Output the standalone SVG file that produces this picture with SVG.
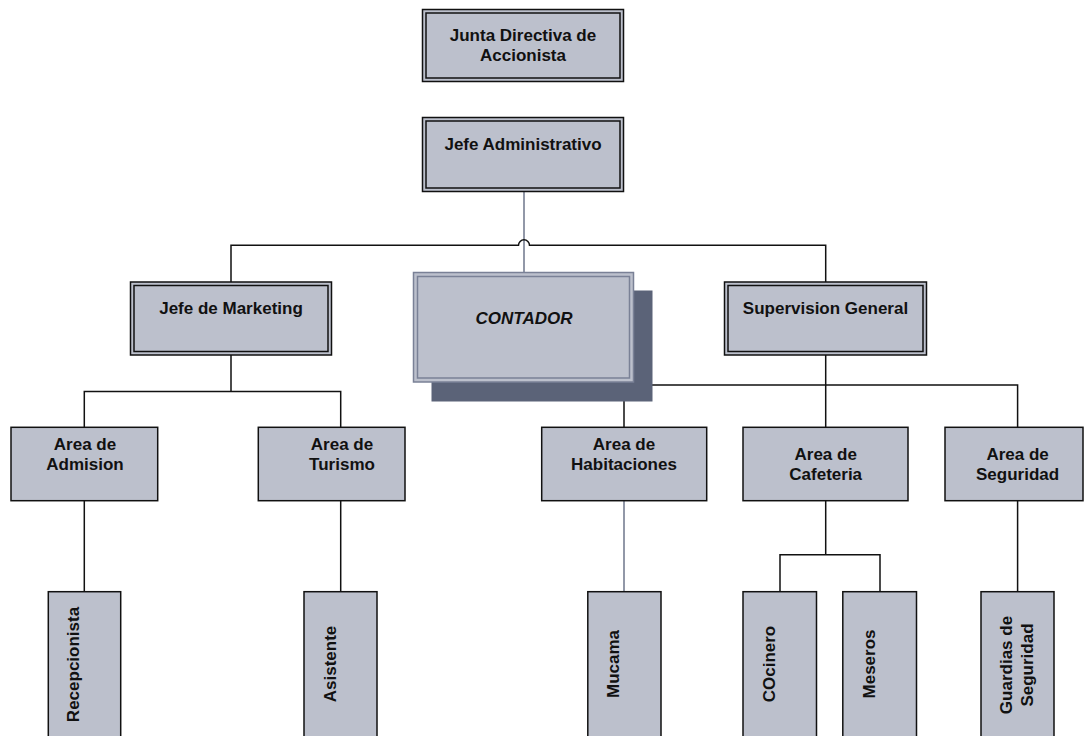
<svg xmlns="http://www.w3.org/2000/svg" width="1086" height="736" viewBox="0 0 1086 736">
<style>
.box{fill:#BCC0CC;stroke:#111;stroke-width:1.5}
.inner{fill:none;stroke:#111;stroke-width:1.5}
.cbox{fill:#BCC0CC;stroke:#7A8196;stroke-width:1.5}
.cinner{fill:none;stroke:#7A8196;stroke-width:1.5}
.shadow{fill:#5B6378}
.t{font-family:"Liberation Sans",Arial,sans-serif;font-size:17px;font-weight:bold;fill:#111;text-anchor:middle}
.it{font-style:italic}
.ln{fill:none;stroke:#111;stroke-width:1.5}
.gln{fill:none;stroke:#6E768B;stroke-width:1.5}
</style>
<g id="connectors">
<path class="gln" d="M524 192 V272"/>
<path class="ln" d="M231 282 V245.3 H518.5 A5.5 5.5 0 0 1 529.5 245.3 H825.7 V282"/>
<path class="ln" d="M231 355 V391.5 M84.3 427.3 V391.5 H340.7 V427.3"/>
<path class="ln" d="M825.7 355 V427.3 M624 427.3 V385 H1017.6 V427.3"/>
<path class="ln" d="M84.3 500.7 V591.7 M340.7 500.7 V591.7"/>
<path class="gln" d="M624 500.7 V591.7"/>
<path class="ln" d="M825.7 500.7 V554.7 M780 591.7 V554.7 H880 V591.7"/>
<path class="ln" d="M1017.6 500.7 V591.7"/>
</g>
<g id="junta">
<rect class="box" x="422.5" y="9.5" width="201" height="72"/>
<rect class="inner" x="426" y="13" width="194" height="65"/>
<text class="t" x="523" y="41">Junta Directiva de</text>
<text class="t" x="523" y="61">Accionista</text>
</g>
<g id="jefe-administrativo">
<rect class="box" x="422.5" y="117.5" width="201" height="74"/>
<rect class="inner" x="426" y="121" width="194" height="67"/>
<text class="t" x="523" y="150">Jefe Administrativo</text>
</g>
<g id="jefe-marketing">
<rect class="box" x="130.5" y="282" width="201" height="73"/>
<rect class="inner" x="134" y="285.5" width="194" height="66"/>
<text class="t" x="231" y="314">Jefe de Marketing</text>
</g>
<g id="contador">
<rect class="shadow" x="431.5" y="290.5" width="221" height="111"/>
<rect class="cbox" x="413.5" y="272.5" width="220" height="109.5"/>
<rect class="cinner" x="417.5" y="276.5" width="212" height="101.5"/>
<text class="t it" x="524" y="323.5">CONTADOR</text>
</g>
<g id="supervision-general">
<rect class="box" x="724.5" y="282" width="202" height="73"/>
<rect class="inner" x="728" y="285.5" width="195" height="66"/>
<text class="t" x="825.5" y="313.5">Supervision General</text>
</g>
<g id="area-admision">
<rect class="box" x="11" y="427.3" width="146.7" height="73.4"/>
<text class="t" x="85" y="450">Area de</text>
<text class="t" x="85" y="470">Admision</text>
</g>
<g id="area-turismo">
<rect class="box" x="258.3" y="427.3" width="146.7" height="73.4"/>
<text class="t" x="342" y="450">Area de</text>
<text class="t" x="342" y="470">Turismo</text>
</g>
<g id="area-habitaciones">
<rect class="box" x="541.7" y="427.3" width="165" height="73.4"/>
<text class="t" x="624" y="450">Area de</text>
<text class="t" x="624" y="470">Habitaciones</text>
</g>
<g id="area-cafeteria">
<rect class="box" x="743" y="427.3" width="165" height="73.4"/>
<text class="t" x="825.7" y="459.5">Area de</text>
<text class="t" x="825.7" y="480">Cafeteria</text>
</g>
<g id="area-seguridad">
<rect class="box" x="945" y="427.3" width="138" height="73.4"/>
<text class="t" x="1017.6" y="459.5">Area de</text>
<text class="t" x="1017.6" y="480">Seguridad</text>
</g>
<g id="recepcionista">
<rect class="box" x="48.3" y="591.7" width="72.4" height="160"/>
<text class="t" transform="translate(79 664.5) rotate(-90)">Recepcionista</text>
</g>
<g id="asistente">
<rect class="box" x="304" y="591.7" width="73" height="160"/>
<text class="t" transform="translate(335.5 664) rotate(-90)">Asistente</text>
</g>
<g id="mucama">
<rect class="box" x="587.8" y="591.7" width="73.2" height="160"/>
<text class="t" transform="translate(619 664) rotate(-90)">Mucama</text>
</g>
<g id="cocinero">
<rect class="box" x="743" y="591.7" width="73.5" height="160"/>
<text class="t" transform="translate(775 664) rotate(-90)">COcinero</text>
</g>
<g id="meseros">
<rect class="box" x="842.8" y="591.7" width="73.7" height="160"/>
<text class="t" transform="translate(875 664) rotate(-90)">Meseros</text>
</g>
<g id="guardias">
<rect class="box" x="981" y="591.7" width="73" height="160"/>
<text class="t" transform="translate(1012 665) rotate(-90)">Guardias de</text>
<text class="t" transform="translate(1032.5 665) rotate(-90)">Seguridad</text>
</g>
</svg>
